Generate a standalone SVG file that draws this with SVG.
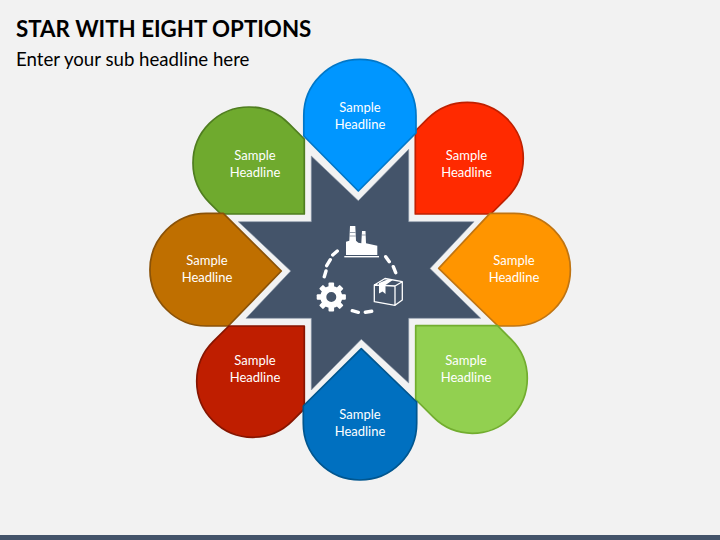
<svg xmlns="http://www.w3.org/2000/svg" width="720" height="540" viewBox="0 0 720 540">
<style>
text{font-family:"Lato","Noto Sans","Liberation Sans",sans-serif}
.l{font-size:13px;fill:#fff;text-anchor:middle}
.p{stroke-width:1.700;stroke-linejoin:round}
.i{fill:#fff}
.o{fill:none;stroke:#fff;stroke-width:1.300;stroke-linejoin:round}
.d{fill:none;stroke:#fff;stroke-width:3.400;stroke-linecap:round}
</style>
<defs><rect id="tooth" x="-2.800" y="-14.600" width="5.600" height="6" rx="1"/></defs>
<rect width="720" height="540" fill="#f2f2f2"/>
<rect y="535" width="720" height="5" fill="#44546a"/>
<text x="16" y="36.700" font-size="22.300" font-weight="700" fill="#000">STAR WITH EIGHT OPTIONS</text>
<text x="16" y="66" font-size="18.650" fill="#000">Enter your sub headline here</text>
<g id="star"><path d="M358.300 200.700L408.700 149.300V221.700H474L430 268.500L480.700 318.300H408.700V383L361.300 339.300L311.300 390V318.300H246L290.700 271L238.300 221.700H311.300V156Z" fill="#44546a" stroke="#8593a6" stroke-width=".6"/></g>
<g id="icon">
<path class="i" d="M346 255V241.700L349.300 240.700L350 226H355.300L356 240.700L358.300 242.700L361.300 243.300L362 231H365.500L366 243.300L377.300 245.700V255Z"/>
<path d="M349.800 232.500H355.500M349.600 236H355.700M361.800 235H365.700" fill="none" stroke="#44546a" stroke-width=".8" opacity=".7"/>
<rect class="i" x="344.300" y="256" width="34.700" height="1.400"/>
<path class="d" d="M332.700 255L337.300 251M326.700 265.700L330.300 259.700M324.300 276.700L326 271M385.700 256.700L389.300 261.700M393.300 266.700L395.700 272.700M352.300 310.700L358.300 312.300M365.300 312.300L371.700 311.300"/>
<g transform="translate(331.300 297)"><circle r="8" fill="none" stroke="#fff" stroke-width="6"/><use href="#tooth" class="i"/><use href="#tooth" class="i" transform="rotate(45)"/><use href="#tooth" class="i" transform="rotate(90)"/><use href="#tooth" class="i" transform="rotate(135)"/><use href="#tooth" class="i" transform="rotate(180)"/><use href="#tooth" class="i" transform="rotate(225)"/><use href="#tooth" class="i" transform="rotate(270)"/><use href="#tooth" class="i" transform="rotate(315)"/></g>
<path class="o" d="M374.300 285L385 278.500L402.300 281.700L395 286ZM374.300 285V301.700L395 305.300V286M395 305.300L402.300 300V281.700"/>
<path class="i" d="M379 283L388 279.300L392.500 280.300L385.500 285V294L382.500 291.500L379 293.500Z"/>
</g>
<g id="connectors"/>
<g id="green"><path class="p" fill="#6faa2e" stroke="#4f7d1f" d="M304.300 214H220.800L209.400 202.600A56 56 0 0 1 288.600 123.400L304.300 139Z"/><text class="l"><tspan x="255" y="160">Sample</tspan><tspan x="255" y="177">Headline</tspan></text></g>
<g id="red"><path class="p" fill="#ff2a00" stroke="#bf2000" d="M415.300 214V131L427.700 118.700A56 56 0 0 1 506.900 197.900L490.800 214Z"/><text class="l"><tspan x="466.500" y="160">Sample</tspan><tspan x="466.500" y="177">Headline</tspan></text></g>
<g id="blue"><path class="p" fill="#0096ff" stroke="#0077c8" d="M358.300 191L303.800 136V115.500A56.100 56.100 0 0 1 416 115.500V133Z"/><text class="l"><tspan x="360" y="112">Sample</tspan><tspan x="360" y="129">Headline</tspan></text></g>
<g id="orange"><path class="p" fill="#ff9500" stroke="#bf7412" d="M438.700 268.300L490 213.300H514A56.300 56.300 0 0 1 514 326H498Z"/><text class="l"><tspan x="514" y="265">Sample</tspan><tspan x="514" y="282">Headline</tspan></text></g>
<g id="brown"><path class="p" fill="#bf6f00" stroke="#8a5208" d="M281.300 271L223.300 213.300H206.300A56.300 56.300 0 0 0 206.300 326H228.300Z"/><text class="l"><tspan x="207" y="265">Sample</tspan><tspan x="207" y="282">Headline</tspan></text></g>
<g id="lightgreen"><path class="p" fill="#92d050" stroke="#72ad2f" d="M415.700 325.700H497.500L511.200 339.400A55 55 0 0 1 433.400 417.200L415.700 399.500Z"/><text class="l"><tspan x="466" y="365">Sample</tspan><tspan x="466" y="382">Headline</tspan></text></g>
<g id="darkred"><path class="p" fill="#bf1e00" stroke="#861500" d="M304.300 326H228.800L213.100 341.700A56 56 0 0 0 292.300 420.900L304.300 408.900Z"/><text class="l"><tspan x="255" y="365">Sample</tspan><tspan x="255" y="382">Headline</tspan></text></g>
<g id="darkblue"><path class="p" fill="#0070c0" stroke="#00568f" d="M361.300 348.700L416.700 402V423.300A56.700 56.700 0 0 1 303.300 423.300V406Z"/><text class="l"><tspan x="360" y="419">Sample</tspan><tspan x="360" y="436">Headline</tspan></text></g>
</svg>
